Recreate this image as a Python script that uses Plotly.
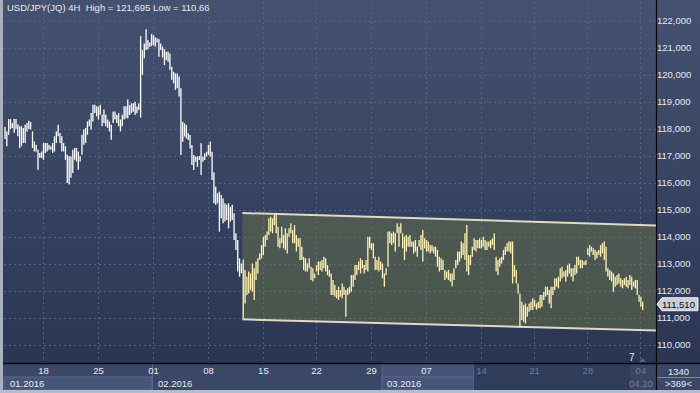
import plotly.graph_objects as go

# ---------------- data ----------------
title_text = "USD/JPY(JQ) 4H  High = 121,695 Low = 110,66"

highs = [
    118.07, 117.91, 118.37, 118.37, 118.22, 118.37, 118.37, 118.18, 118.10, 118.10,
    118.04, 118.16, 118.22, 118.31, 118.26, 117.91, 117.54, 117.42, 117.23, 117.11,
    117.17, 117.48, 117.48, 117.48, 117.42, 117.36, 117.48, 117.73, 117.91, 118.16,
    117.85, 117.73, 117.48, 117.36, 117.05, 116.99, 116.99, 117.23, 117.30, 117.30,
    117.17, 116.99, 117.79, 117.98, 118.04, 118.28, 118.35, 118.59, 118.90, 118.90,
    118.84, 118.84, 118.90, 118.53, 118.72, 118.53, 118.35, 118.28, 118.16, 118.65,
    118.65, 118.53, 118.59, 118.35, 118.53, 118.84, 118.84, 119.09, 118.89, 118.95,
    118.95, 119.01, 118.83, 118.95, 121.44, 120.93, 121.17, 121.695, 121.30, 121.20,
    121.52, 121.48, 121.40, 121.36, 121.32, 121.17, 121.05, 120.95, 120.86, 120.86,
    120.80, 120.31, 120.12, 120.06, 120.06, 119.94, 119.51, 118.27, 118.21, 118.15,
    117.84, 117.78, 117.41, 117.04, 116.98, 116.98, 117.00, 117.47, 116.98, 117.10,
    117.16, 117.41, 117.53, 117.16, 116.40, 115.87, 115.62, 115.68, 115.56, 115.43,
    115.25, 115.19, 115.25, 115.12, 115.19, 114.88, 114.14, 113.89, 113.21, 113.02,
    113.17, 112.78, 112.53, 112.72, 112.65, 113.02, 112.84, 113.09, 113.21, 113.39,
    113.70, 114.01, 114.07, 114.20, 114.69, 114.75, 114.69, 114.81, 114.88, 114.38,
    113.95, 114.38, 114.07, 114.32, 114.14, 114.32, 114.51, 114.26, 114.44, 114.07,
    113.95, 113.95, 113.64, 113.27, 113.21, 113.02, 113.21, 112.90, 112.84, 112.65,
    112.96, 113.09, 113.09, 113.15, 113.27, 113.21, 112.96, 112.78, 112.65, 112.41,
    112.22, 112.04, 112.16, 112.04, 112.28, 112.16, 112.04, 112.10, 112.16, 112.59,
    112.59, 112.96, 112.96, 113.09, 113.21, 113.15, 112.96, 113.15, 114.01, 114.01,
    113.77, 113.77, 113.27, 113.15, 113.27, 113.09, 113.02, 112.65, 112.84, 114.20,
    114.20, 114.14, 114.20, 114.14, 114.51, 114.38, 114.51, 114.14, 114.01, 114.07,
    114.01, 114.07, 113.83, 113.83, 113.89, 113.64, 113.89, 114.07, 114.26, 113.95,
    113.89, 113.83, 113.70, 113.70, 113.64, 113.64, 113.52, 113.27, 113.21, 113.15,
    112.78, 112.72, 112.78, 112.65, 112.65, 112.84, 113.15, 113.46, 113.46, 113.83,
    113.77, 114.14, 114.44, 113.33, 113.33, 113.64, 113.95, 113.89, 113.89, 113.95,
    113.89, 114.01, 113.89, 113.83, 113.83, 113.89, 113.95, 114.14, 113.27, 113.15,
    113.21, 113.27, 113.52, 113.64, 113.77, 113.83, 113.83, 113.83, 112.96, 112.78,
    112.28, 111.91, 111.60, 111.48, 111.54, 111.42, 111.54, 111.60, 111.73, 111.67,
    111.54, 111.60, 111.85, 111.85, 111.97, 112.16, 112.16, 112.04, 112.16, 112.16,
    112.47, 112.47, 112.53, 112.84, 112.90, 112.72, 112.78, 112.96, 113.02, 112.84,
    112.84, 112.96, 113.27, 113.27, 113.15, 113.15, 113.09, 113.15, 113.58, 113.70,
    113.64, 113.58, 113.52, 113.46, 113.52, 113.70, 113.77, 113.83, 113.64, 112.84,
    112.78, 112.72, 112.65, 112.53, 112.59, 112.65, 112.47, 112.41, 112.47, 112.53,
    112.41, 112.59, 112.53, 112.35, 112.41, 112.41, 111.85, 111.79, 111.60,
]

lows = [
    117.63, 117.36, 117.79, 118.00, 118.04, 117.85, 118.00, 117.73, 117.30, 117.36,
    117.48, 117.48, 117.91, 118.00, 117.98, 117.30, 117.17, 117.17, 116.49, 116.93,
    116.93, 116.86, 117.11, 117.17, 117.23, 117.23, 117.11, 117.17, 117.48, 117.73,
    117.48, 117.17, 117.17, 116.86, 116.00, 115.94, 116.19, 116.37, 116.86, 116.80,
    116.49, 116.80, 117.05, 117.42, 117.48, 117.79, 118.10, 117.98, 118.28, 118.59,
    118.47, 118.35, 118.53, 118.10, 118.22, 118.10, 118.04, 117.91, 117.60, 118.22,
    118.35, 118.22, 118.10, 117.91, 118.10, 118.35, 118.40, 118.40, 118.52, 118.58,
    118.64, 118.52, 118.58, 118.70, 118.42, 120.00, 120.62, 120.93, 120.95, 121.05,
    121.07, 121.11, 121.05, 121.20, 120.68, 120.93, 120.65, 120.37, 120.56, 120.49,
    120.19, 119.82, 119.69, 119.45, 119.51, 119.20, 117.04, 117.53, 117.72, 117.65,
    117.59, 117.28, 116.67, 116.48, 116.79, 116.60, 116.85, 116.30, 116.79, 116.85,
    116.98, 117.04, 116.98, 116.11, 115.25, 115.19, 115.25, 114.20, 114.69, 114.51,
    114.57, 114.63, 114.32, 114.57, 114.63, 113.89, 113.52, 112.72, 112.53, 112.66,
    110.99, 111.54, 111.85, 111.91, 112.04, 111.97, 111.67, 112.41, 112.65, 113.15,
    113.21, 113.33, 113.64, 113.89, 114.07, 114.20, 114.14, 114.44, 114.14, 113.64,
    113.58, 113.77, 113.58, 113.52, 113.39, 114.01, 114.14, 113.77, 113.77, 113.46,
    113.64, 113.15, 113.15, 112.78, 112.72, 112.72, 112.84, 112.41, 112.35, 112.47,
    112.72, 112.59, 112.78, 112.72, 112.84, 112.72, 112.59, 112.53, 111.85, 111.85,
    111.79, 111.73, 111.67, 111.79, 111.73, 111.85, 111.05, 111.85, 111.91, 111.97,
    112.16, 112.41, 112.59, 112.78, 112.65, 112.84, 112.65, 112.78, 112.72, 113.58,
    113.52, 113.21, 112.78, 112.78, 112.72, 112.78, 112.47, 112.16, 112.59, 112.90,
    113.77, 113.70, 113.77, 113.46, 114.14, 113.64, 114.14, 113.58, 113.15, 113.46,
    113.64, 113.64, 113.64, 113.39, 113.46, 113.27, 113.64, 113.52, 113.09, 113.58,
    113.46, 113.46, 113.39, 113.46, 113.39, 113.27, 112.90, 112.72, 112.78, 112.78,
    112.41, 112.47, 112.41, 112.35, 112.18, 112.41, 112.84, 112.96, 113.09, 113.21,
    113.33, 113.15, 112.72, 112.59, 112.96, 113.27, 113.52, 113.46, 113.58, 113.58,
    113.58, 113.64, 113.52, 113.52, 113.64, 113.58, 113.70, 113.52, 112.72, 112.59,
    112.90, 113.02, 113.15, 113.33, 113.46, 113.46, 113.39, 112.28, 112.53, 112.28,
    111.91, 110.66, 110.93, 110.86, 110.80, 111.05, 111.23, 111.30, 111.30, 111.42,
    111.30, 111.36, 111.36, 111.42, 111.67, 111.79, 111.85, 111.54, 111.36, 111.85,
    112.04, 112.16, 112.10, 112.35, 112.47, 112.53, 112.35, 112.53, 112.65, 112.53,
    112.35, 112.59, 112.65, 112.96, 112.84, 112.84, 112.96, 112.96, 113.33, 113.27,
    113.46, 113.33, 113.15, 113.21, 113.33, 113.27, 113.39, 113.15, 112.72, 112.53,
    112.41, 112.35, 111.97, 112.16, 112.22, 112.28, 112.16, 112.10, 112.22, 112.16,
    112.10, 112.22, 112.04, 112.16, 112.10, 111.85, 111.60, 111.42, 111.30,
]

week_tick_idx = [21, 51, 81, 111, 141, 170, 200, 230, 260, 289, 318, 347]
week_tick_labels = ["18", "25", "01", "08", "15", "22", "29", "07", "14", "21", "28", "04"]
dimmed_from = 8

month_labels = ["01.2016", "02.2016", "03.2016"]
month_label_idx = [1.5, 82.3, 207.2]

price_ticks = [110, 111, 112, 113, 114, 115, 116, 117, 118, 119, 120, 121, 122]
price_tick_labels = ["110,000", "111,000", "112,000", "113,000", "114,000", "115,000",
                     "116,000", "117,000", "118,000", "119,000", "120,000", "121,000", "122,000"]

channel_idx = [129.5, 355.3]
channel_upper = [114.89, 114.43]
channel_lower = [110.95, 110.54]
channel_start_bar = 130

last_price = 111.51
last_price_label = "111,510"
bars_shown = "1340"
bars_info = ">369<"

# ---------------- layout constants ----------------
W, H = 700, 393
ML, MR, MT, MB = 4, 44, 2, 30
PX0, PX1 = 4, 656      # plot area pixel x
PY0, PY1 = 2, 363      # plot area pixel y
BAR_PX0, BAR_DX = 5.0, 1.8325
XMIN = (PX0 - BAR_PX0) / BAR_DX
XMAX = (PX1 - BAR_PX0) / BAR_DX
YMIN = 122 - (PY1 - 21) / 27.0
YMAX = 122 - (PY0 - 21) / 27.0


def pxx(px):
    return (px - PX0) / (PX1 - PX0)


def pxy(py):
    return (PY1 - py) / (PY1 - PY0)


def idx_to_px(i):
    return BAR_PX0 + i * BAR_DX


FONT = "Liberation Sans, Arial, sans-serif"
TXT = "#e6eaf3"
DIM = "#6e7c96"

fig = go.Figure()

# channel fill + edges
fig.add_trace(go.Scatter(
    x=[channel_idx[0], channel_idx[1], channel_idx[1], channel_idx[0], channel_idx[0]],
    y=[channel_upper[0], channel_upper[1], channel_lower[1], channel_lower[0], channel_upper[0]],
    mode="lines", fill="toself", fillcolor="rgba(108,120,66,0.45)",
    line=dict(width=0), hoverinfo="skip"))
for edge in (channel_upper, channel_lower):
    fig.add_trace(go.Scatter(x=channel_idx, y=edge, mode="lines",
                             line=dict(color="#dedac6", width=2), hoverinfo="skip"))

# high-low bars
def segs(lo_i, hi_i):
    xs, ys = [], []
    for i in range(lo_i, hi_i):
        xs += [i, i, None]
        ys += [lows[i], highs[i], None]
    return xs, ys

xw, yw = segs(0, channel_start_bar)
xc, yc = segs(channel_start_bar, len(highs))
fig.add_trace(go.Scatter(x=xw, y=yw, mode="lines",
                         line=dict(color="#ffffff", width=1.3), hoverinfo="skip"))
fig.add_trace(go.Scatter(x=xc, y=yc, mode="lines",
                         line=dict(color="#fff2b6", width=1.3), hoverinfo="skip"))

shapes = []
# background gradient (whole figure)
top_c = (68, 81, 112)
bot_c = (42, 54, 84)
NB = 30
for k in range(NB):
    y0 = k * (PY1 / NB)
    y1 = (k + 1) * (PY1 / NB)
    t = k / (NB - 1)
    c = tuple(int(round(top_c[j] + (bot_c[j] - top_c[j]) * t)) for j in range(3))
    shapes.append(dict(type="rect", xref="paper", yref="paper",
                       x0=pxx(0), x1=pxx(W), y0=pxy(y1 + 0.5), y1=pxy(y0 - 0.5),
                       fillcolor="rgb(%d,%d,%d)" % c, line=dict(width=0), layer="below"))
# bottom time-axis area
shapes.append(dict(type="rect", xref="paper", yref="paper", x0=pxx(0), x1=pxx(W),
                   y0=pxy(H), y1=pxy(PY1), fillcolor="#3a4766", line=dict(width=0), layer="below"))
# month box 01.2016
shapes.append(dict(type="rect", xref="paper", yref="paper",
                   x0=pxx(idx_to_px(XMIN)), x1=pxx(152), y0=pxy(390), y1=pxy(377),
                   fillcolor="#47557a", line=dict(color="#5a688a", width=1), layer="below"))
# month box 03.2016
shapes.append(dict(type="rect", xref="paper", yref="paper",
                   x0=pxx(382), x1=pxx(474), y0=pxy(390), y1=pxy(PY1),
                   fillcolor="#46547a", line=dict(color="#5a688a", width=1), layer="below"))
shapes.append(dict(type="line", xref="paper", yref="paper",
                   x0=pxx(382), x1=pxx(474), y0=pxy(377), y1=pxy(377),
                   line=dict(color="#5a688a", width=1), layer="below"))
# dimmed future region
shapes.append(dict(type="rect", xref="paper", yref="paper",
                   x0=pxx(474), x1=pxx(630), y0=pxy(390), y1=pxy(PY1),
                   fillcolor="#2f3c5a", line=dict(width=0), layer="below"))
shapes.append(dict(type="rect", xref="paper", yref="paper",
                   x0=pxx(630), x1=pxx(656), y0=pxy(390), y1=pxy(PY1),
                   fillcolor="#394563", line=dict(width=0), layer="below"))
# month separator at 01
shapes.append(dict(type="line", xref="paper", yref="paper",
                   x0=pxx(152.5), x1=pxx(152.5), y0=pxy(390), y1=pxy(PY1),
                   line=dict(color="#5a688a", width=1), layer="below"))
# right-bottom corner separator
shapes.append(dict(type="line", xref="paper", yref="paper",
                   x0=pxx(657), x1=pxx(W), y0=pxy(377.5), y1=pxy(377.5),
                   line=dict(color="#7d889e", width=1), layer="below"))
# frame: left strip and bottom strip
shapes.append(dict(type="rect", xref="paper", yref="paper", x0=pxx(0), x1=pxx(3),
                   y0=pxy(H), y1=pxy(0), fillcolor="#a9b1c1", line=dict(width=0), layer="above"))
shapes.append(dict(type="rect", xref="paper", yref="paper", x0=pxx(0), x1=pxx(W),
                   y0=pxy(H), y1=pxy(390), fillcolor="#b5bccb", line=dict(width=0), layer="above"))
# black axis lines extended
shapes.append(dict(type="line", xref="paper", yref="paper", x0=pxx(656.5), x1=pxx(656.5),
                   y0=pxy(390), y1=pxy(0), line=dict(color="#05070c", width=1.2), layer="above"))
shapes.append(dict(type="line", xref="paper", yref="paper", x0=pxx(3), x1=pxx(W),
                   y0=pxy(363.5), y1=pxy(363.5), line=dict(color="#05070c", width=1.5), layer="above"))
# last price tag
lp_y = PY0 + (YMAX - last_price) / (YMAX - YMIN) * (PY1 - PY0)
tag = "M %f,%f L %f,%f L %f,%f L %f,%f L %f,%f Z" % (
    pxx(657), pxy(lp_y), pxx(662), pxy(lp_y - 6.5), pxx(698), pxy(lp_y - 6.5),
    pxx(698), pxy(lp_y + 6.5), pxx(662), pxy(lp_y + 6.5))
shapes.append(dict(type="path", xref="paper", yref="paper", path=tag,
                   fillcolor="#c9ced8", line=dict(color="#eef0f4", width=1), layer="above"))
# small marker near "7"
tri = "M %f,%f L %f,%f L %f,%f Z" % (pxx(639), pxy(362), pxx(646), pxy(362), pxx(642.5), pxy(358))
shapes.append(dict(type="path", xref="paper", yref="paper", path=tri,
                   fillcolor="#59647e", line=dict(width=0), layer="above"))

annotations = [
    dict(text=title_text, xref="paper", yref="paper", x=pxx(5), y=pxy(8),
         xanchor="left", yanchor="middle", showarrow=False,
         font=dict(family=FONT, size=9.5, color=TXT)),
    dict(text=last_price_label, xref="paper", yref="paper", x=pxx(679), y=pxy(lp_y),
         xanchor="center", yanchor="middle", showarrow=False,
         font=dict(family=FONT, size=9.5, color="#05070c")),
    dict(text=bars_shown, xref="paper", yref="paper", x=pxx(678), y=pxy(371),
         xanchor="center", yanchor="middle", showarrow=False,
         font=dict(family=FONT, size=9.5, color=TXT)),
    dict(text=bars_info, xref="paper", yref="paper", x=pxx(678), y=pxy(383.5),
         xanchor="center", yanchor="middle", showarrow=False,
         font=dict(family=FONT, size=9.5, color=TXT)),
    dict(text="7", xref="paper", yref="paper", x=pxx(632), y=pxy(357),
         xanchor="center", yanchor="middle", showarrow=False,
         font=dict(family=FONT, size=10, color=TXT)),
    dict(text="04.20", xref="paper", yref="paper", x=pxx(655), y=pxy(383.5),
         xanchor="right", yanchor="middle", showarrow=False,
         font=dict(family=FONT, size=9.5, color=DIM)),
]
for lab, xi in zip(month_labels, month_label_idx):
    annotations.append(dict(text=lab, x=xi, xref="x", yref="paper", y=pxy(383.5),
                            xanchor="left", yanchor="middle", showarrow=False,
                            font=dict(family=FONT, size=9.5, color=TXT)))

tick_text = []
for k, lab in enumerate(week_tick_labels):
    if k >= dimmed_from:
        tick_text.append("<span style='color:%s'>%s</span>" % (DIM, lab))
    else:
        tick_text.append(lab)

grid = "#56627f"
fig.update_layout(
    width=W, height=H,
    margin=dict(l=ML, r=MR, t=MT, b=MB, pad=0),
    paper_bgcolor="#34415f", plot_bgcolor="rgba(0,0,0,0)",
    showlegend=False,
    shapes=shapes, annotations=annotations,
    xaxis=dict(range=[XMIN, XMAX], tickvals=week_tick_idx, ticktext=tick_text,
               showgrid=True, gridcolor=grid, gridwidth=1, griddash="2px,3px",
               zeroline=False, showline=False, ticks="",
               tickfont=dict(family=FONT, size=9.5, color=TXT), fixedrange=True),
    yaxis=dict(range=[YMIN, YMAX], side="right", tickvals=price_ticks,
               ticktext=price_tick_labels, showgrid=True, gridcolor=grid, gridwidth=1,
               griddash="2px,3px", zeroline=False, showline=False, ticks="",
               tickfont=dict(family=FONT, size=9.5, color=TXT), fixedrange=True),
)

fig.write_html("out.html", config={"displayModeBar": False},
               post_script="document.body.style.margin='0';document.body.style.overflow='hidden';")
